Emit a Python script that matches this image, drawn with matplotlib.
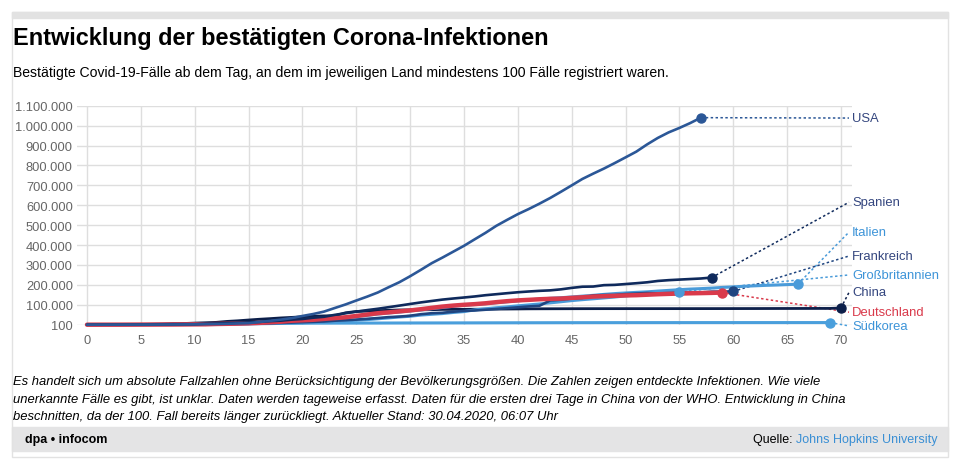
import matplotlib
matplotlib.use("Agg")
import matplotlib.pyplot as plt
from matplotlib import font_manager
from matplotlib.patches import Rectangle
from matplotlib.lines import Line2D

plt.rcParams["font.family"] = ["Liberation Sans", "DejaVu Sans"]

W, H = 960, 464

# cumulative confirmed cases, one value per day since the 100th case
usa = [118, 149, 217, 262, 402, 518, 583, 959, 1281, 1663, 2179, 2726, 3499, 4632,
       6421, 7783, 13747, 19273, 25600, 33276, 43847, 53740, 65778, 83836, 101657,
       121478, 140886, 161807, 188172, 213372, 243453, 275586, 308850, 337072,
       366667, 396223, 429052, 461437, 496535, 526396, 555313, 580619, 607670,
       636350, 667592, 699706, 732197, 758809, 784326, 811865, 840351, 869170,
       905358, 938154, 965785, 988197, 1012582, 1039909]
spain = [120, 165, 222, 259, 400, 500, 673, 1073, 1695, 2277, 2277, 5232, 6391, 7798,
         9942, 11748, 13910, 17963, 20410, 25374, 28768, 35136, 39885, 49515, 57786,
         65719, 73235, 80110, 87956, 95923, 104118, 112065, 119199, 126168, 131646,
         136675, 141942, 148220, 153222, 158273, 163027, 166831, 170099, 172541,
         177644, 184948, 190839, 191726, 198674, 200210, 204178, 208389, 213024,
         219764, 223759, 226629, 229422, 232128, 236899]
italy = [155, 229, 322, 453, 655, 888, 1128, 1694, 2036, 2502, 3089, 3858, 4636, 5883,
         7375, 9172, 10149, 12462, 12462, 17660, 21157, 24747, 27980, 31506, 35713,
         41035, 47021, 53578, 59138, 63927, 69176, 74386, 80589, 86498, 92472, 97689,
         101739, 105792, 110574, 115242, 119827, 124632, 128948, 132547, 135586,
         139422, 143626, 147577, 152271, 156363, 159516, 162488, 165155, 168941,
         172434, 175925, 178972, 181228, 183957, 187327, 189973, 192994, 195351,
         197675, 199414, 201505, 203591]
france = [100, 130, 191, 204, 288, 380, 656, 959, 1136, 1219, 1794, 2293, 2293, 3681,
          4496, 4532, 6683, 7715, 9124, 10970, 12758, 14463, 16243, 20123, 22622,
          25600, 29551, 33402, 38105, 40708, 45170, 52827, 57749, 59929, 65202, 69500,
          71412, 75343, 79163, 83080, 87366, 91738, 94863, 121712, 125394, 131361,
          134582, 147091, 149130, 149149, 154097, 156480, 159297, 157125, 158636,
          160292, 161644, 162220, 165963, 166420, 167305]
germany = [130, 159, 196, 262, 482, 670, 799, 1040, 1176, 1457, 1908, 2078, 3675, 4585,
           5795, 7272, 9257, 12327, 15320, 19848, 22213, 24873, 29056, 32986, 37323,
           43938, 50871, 57695, 62095, 66885, 71808, 77872, 84794, 91159, 96092, 100123,
           103374, 107663, 113296, 118181, 122171, 124908, 127854, 130072, 131359,
           134753, 137698, 141397, 143342, 145184, 147065, 148291, 150648, 153129,
           154999, 156513, 157770, 158758, 159912, 161539]
uk = [116, 164, 207, 274, 322, 384, 459, 459, 802, 1144, 1145, 1551, 1960, 2642, 2716,
      4014, 5067, 5745, 6726, 8164, 9640, 11812, 14745, 17312, 19780, 22453, 25481,
      29865, 34173, 38689, 42477, 48436, 52279, 55949, 61474, 65872, 74605, 79874,
      85206, 89570, 94845, 99483, 104145, 109769, 115314, 121172, 125856, 130172,
      134638, 139246, 144640, 149569, 153524, 157149, 161145, 165221]
china = [278, 326, 547, 639, 916, 1399, 2062, 2863, 5494, 6070, 8124, 9783, 11871,
         16607, 19693, 23680, 27409, 30553, 34075, 36778, 39790, 42306, 44327, 44699,
         59832, 66292, 68347, 70446, 72364, 74139, 74546, 74999, 75472, 76922, 76938,
         77152, 77660, 78065, 78498, 78824, 79251, 79826, 80026, 80151, 80271, 80422,
         80573, 80652, 80699, 80735, 80757, 80785, 80793, 80801, 80827, 80848, 80880,
         80917, 80966, 81008, 81086, 81157, 81218, 81352, 81474, 81554, 81646, 81711,
         81811, 81883, 83940]
korea = [104, 204, 433, 602, 833, 977, 1261, 1766, 2337, 3150, 3736, 4335, 5186, 5621,
         6088, 6593, 7041, 7314, 7478, 7513, 7755, 7869, 7979, 8086, 8162, 8236, 8320,
         8413, 8565, 8652, 8799, 8897, 8961, 9037, 9137, 9241, 9332, 9478, 9583, 9661,
         9786, 9887, 9976, 10062, 10156, 10237, 10284, 10331, 10384, 10423, 10450,
         10480, 10512, 10537, 10564, 10591, 10613, 10635, 10653, 10661, 10674, 10683,
         10694, 10708, 10718, 10728, 10738, 10752, 10761, 10765]

names = ["Südkorea", "China", "Großbritannien", "Italien", "Frankreich",
         "Deutschland", "Spanien", "USA"]
series = [korea, china, uk, italy, france, germany, spain, usa]
label_vals = [-6000, 162000, 250000, 465000, 345000, 63000, 615000, 1038000]

DARK_LBL = "#34467f"
LIGHT_LBL = "#3d94d8"
colors = ["#4a9fdc", "#0c1f4a", "#4a9bd9", "#4a9bd9", "#1f4580", "#d93a4b",
          "#0f2a5c", "#2b5797"]
label_colors = [LIGHT_LBL, DARK_LBL, LIGHT_LBL, LIGHT_LBL, DARK_LBL, "#d93a4b",
                DARK_LBL, DARK_LBL]
widths = [2.2, 2.0, 2.2, 2.2, 1.9, 3.2, 1.9, 1.9]

y_ticks = [100] + [i * 100000 for i in range(1, 12)]
x_ticks = list(range(0, 71, 5))


def fx(px):
    return px / W


def fy(py):
    return 1 - py / H


def de_fmt(v):
    return f"{v:,}".replace(",", ".")


def has_font(name):
    try:
        font_manager.findfont(name, fallback_to_default=False)
        return True
    except Exception:
        return False


# the note and footer use a condensed face in the original
if has_font("Liberation Sans Narrow"):
    NARROW = ["Liberation Sans Narrow", "Liberation Sans"]
    note_size, foot_size = 11.4, 10.8
else:
    NARROW = ["Liberation Sans", "DejaVu Sans"]
    note_size, foot_size = 9.4, 9.0

fig = plt.figure(figsize=(W / 100, H / 100), dpi=100)

# frame and bands
fig.patches.append(Rectangle((fx(12), fy(458)), fx(936), (458 - 13) / H,
                             transform=fig.transFigure, fill=False,
                             edgecolor="#e2e2e2", linewidth=1))
fig.patches.append(Rectangle((fx(12), fy(19)), fx(936), 6 / H,
                             transform=fig.transFigure, color="#e2e2e2", zorder=0))
fig.patches.append(Rectangle((fx(12), fy(452)), fx(936), 24 / H,
                             transform=fig.transFigure, color="#e4e4e5", zorder=0))

fig.text(fx(13), fy(39), "Entwicklung der bestätigten Corona-Infektionen",
         fontsize=16.9, fontweight="bold", va="center", ha="left")
fig.text(fx(13), fy(73), "Bestätigte Covid-19-Fälle ab dem Tag, an dem im jeweiligen "
         "Land mindestens 100 Fälle registriert waren.", fontsize=10.05,
         va="center", ha="left")

note = ["Es handelt sich um absolute Fallzahlen ohne Berücksichtigung der Bevölkerungsgrößen. "
        "Die Zahlen zeigen entdeckte Infektionen. Wie viele",
        "unerkannte Fälle es gibt, ist unklar. Daten werden tageweise erfasst. Daten für die "
        "ersten drei Tage in China von der WHO. Entwicklung in China",
        "beschnitten, da der 100. Fall bereits länger zurückliegt. Aktueller Stand: "
        "30.04.2020, 06:07 Uhr"]
for i, line in enumerate(note):
    fig.text(fx(13), fy(382 + i * 17.5), line, fontsize=note_size, fontstyle="italic",
             family=NARROW, va="center", ha="left")

fig.text(fx(25), fy(440), "dpa • infocom", fontsize=foot_size, fontweight="bold",
         family=NARROW, va="center", ha="left")
src = fig.text(fx(938), fy(440), "Johns Hopkins University", fontsize=foot_size,
               family=NARROW, color="#3a8fd4", va="center", ha="right")
fig.canvas.draw()
bb = src.get_window_extent()
fig.text(bb.x0 / W - 0.001, fy(440), "Quelle: ", fontsize=foot_size, family=NARROW,
         va="center", ha="right")

# plot area
ax = fig.add_axes([fx(77), fy(325.7), fx(852 - 77), (325.7 - 106.7) / H])
ax.set_xlim((77 - 87) / 10.77, (852 - 87) / 10.77)
ax.set_ylim(100, 1100000)
for s in ax.spines.values():
    s.set_visible(False)
ax.set_yticks(y_ticks)
ax.set_yticklabels([de_fmt(v) for v in y_ticks])
ax.set_xticks(x_ticks)
ax.tick_params(axis="both", length=0, labelsize=9.3, labelcolor="#666666")
ax.tick_params(axis="y", pad=3)
ax.tick_params(axis="x", pad=7)
ax.grid(True, color="#dedede", linewidth=1)
ax.set_axisbelow(True)

X_LINE_END = 70.75
X_LABEL = 71.05
for name, vals, lv, c, lc, lw in zip(names, series, label_vals, colors,
                                      label_colors, widths):
    days = list(range(len(vals)))
    if name == "China":
        days = list(range(71))
        vals = vals[:71]
    ax.plot(days, vals, color=c, linewidth=lw, solid_capstyle="round",
            solid_joinstyle="round", zorder=3, clip_on=False)
    xe, ye = days[-1], vals[-1]
    ax.plot([xe], [ye], marker="o", markersize=6.5, color=c, zorder=4,
            clip_on=False)
    ax.add_line(Line2D([xe, X_LINE_END], [ye, lv], color=c, linewidth=1.1,
                       linestyle=(0, (1.6, 1.6)), zorder=2, clip_on=False))
    ax.text(X_LABEL, lv, name, color=lc, fontsize=9.4, va="center", ha="left",
            clip_on=False)

fig.savefig("out.png", dpi=100)
